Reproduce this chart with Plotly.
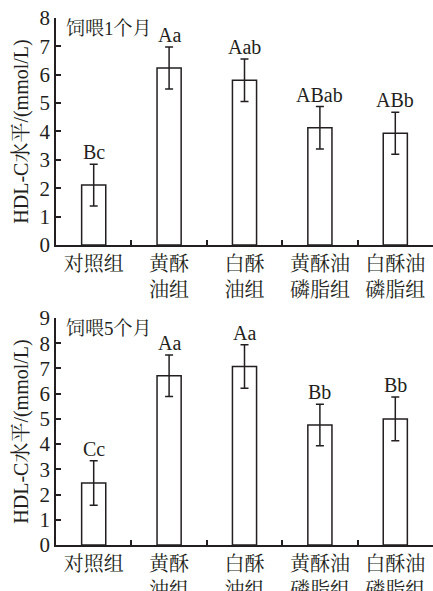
import plotly.graph_objects as go

categories = ["对照组", "黄酥<br>油组", "白酥<br>油组", "黄酥油<br>磷脂组", "白酥油<br>磷脂组"]
month1_values = [2.11, 6.24, 5.81, 4.13, 3.94]
month1_errors = [0.74, 0.74, 0.75, 0.75, 0.74]
month1_letters = ["Bc", "Aa", "Aab", "ABab", "ABb"]
month5_values = [2.46, 6.71, 7.08, 4.76, 5.00]
month5_errors = [0.88, 0.82, 0.86, 0.82, 0.87]
month5_letters = ["Cc", "Aa", "Aa", "Bb", "Bb"]
panel_titles = ["饲喂1个月", "饲喂5个月"]
y_max = [8, 9]
y_title = "HDL-C水平/(mmol/L)"

FONT = "Liberation Serif, Times New Roman, Noto Serif CJK SC, Noto Sans CJK SC, serif"
INK = "#231f20"

fig = go.Figure()

panels = [
    (month1_values, month1_errors, month1_letters, "x", "y"),
    (month5_values, month5_errors, month5_letters, "x2", "y2"),
]
for vals, errs, letters, xa, ya in panels:
    fig.add_trace(go.Bar(
        x=categories, y=vals, xaxis=xa, yaxis=ya, width=0.32,
        marker=dict(color="white", line=dict(color=INK, width=1.5)),
        error_y=dict(type="data", array=errs, visible=True, color=INK,
                     thickness=1.5, width=4),
        showlegend=False, hoverinfo="skip",
    ))
    for c, v, e, t in zip(categories, vals, errs, letters):
        fig.add_annotation(x=c, y=v + e, xref=xa, yref=ya, text=t,
                           showarrow=False, yanchor="bottom", yshift=-1,
                           font=dict(family=FONT, size=20, color=INK))

domains = [[0.5855, 0.9695], [0.0778, 0.4619]]
for i, (dom, ym, title) in enumerate(zip(domains, y_max, panel_titles)):
    sfx = "" if i == 0 else "2"
    fig.update_layout(**{
        "xaxis" + sfx: dict(
            domain=[0, 1], anchor="y" + sfx, showline=True, linecolor=INK, linewidth=1.5,
            ticks="inside", tickson="boundaries", ticklen=5, tickcolor=INK, tickwidth=1.5,
            range=[-0.5, 4.5], tickfont=dict(family=FONT, size=20, color=INK),
            showgrid=False, zeroline=False, fixedrange=True, automargin=False,
        ),
        "yaxis" + sfx: dict(
            domain=dom, anchor="x" + sfx, range=[0, ym], dtick=1, showline=True,
            linecolor=INK, linewidth=1.5, ticks="inside", ticklen=5, tickcolor=INK,
            tickwidth=1.5, tickfont=dict(family=FONT, size=21, color=INK),
            title=dict(text=y_title, font=dict(family=FONT, size=20, color=INK), standoff=6),
            showgrid=False, zeroline=False, automargin=False, fixedrange=True,
        ),
    })
    fig.add_annotation(x=0.02, y=dom[1], xref="x" + sfx + " domain" if sfx else "x domain",
                       yref="paper", text=title, showarrow=False, xanchor="left",
                       yanchor="top", yshift=2,
                       font=dict(family=FONT, size=19, color=INK))

fig.update_layout(
    width=433, height=591, margin=dict(l=56, r=0, t=0, b=0, autoexpand=False),
    paper_bgcolor="white", plot_bgcolor="white", bargap=0.68,
)

fig.write_html("out.html", config={"displayModeBar": False},
               post_script="document.body.style.margin='0';document.body.style.overflow='hidden';")
